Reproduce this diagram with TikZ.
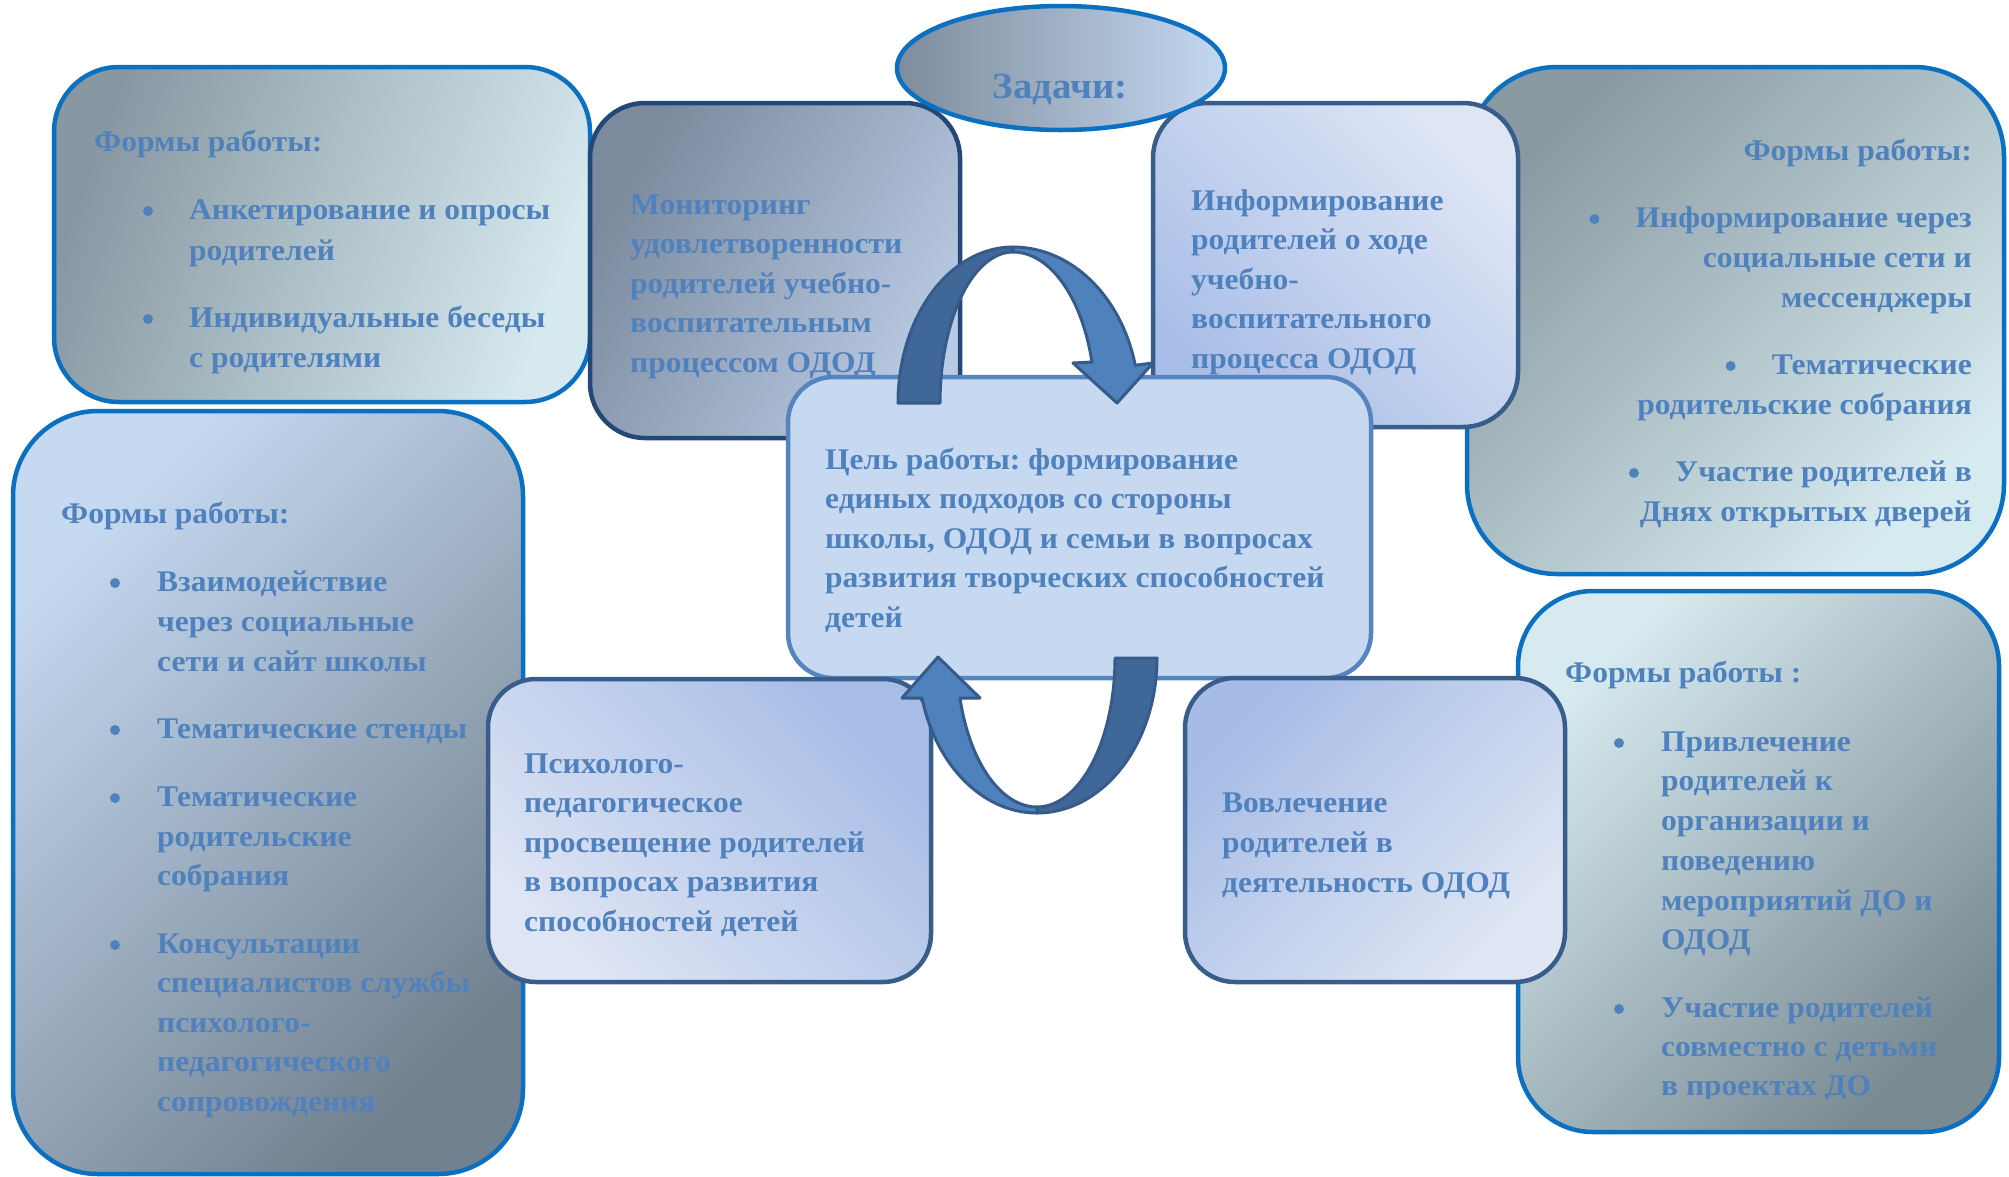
\documentclass[tikz,border=0pt]{standalone}
\usepackage{fontspec}
\setmainfont{Liberation Serif}
\newfontfamily\cfont{Liberation Serif}[FakeStretch=1.05]
\frenchspacing
\usetikzlibrary{shapes.geometric}
\definecolor{txtc}{HTML}{4F81BD}
\definecolor{bluebd}{HTML}{0B70C0}
\definecolor{navybd}{HTML}{234777}
\definecolor{midbd}{HTML}{385D8A}
\definecolor{cbd}{HTML}{5584BE}
\definecolor{cfill}{HTML}{C6D9F0}
\definecolor{arrd}{HTML}{3F6798}
\definecolor{arrl}{HTML}{4F81BD}
\definecolor{arro}{HTML}{365B8B}
\definecolor{tlA}{HTML}{8898A2}\definecolor{tlB}{HTML}{D5E9EF}
\definecolor{lbA}{HTML}{C5D9F1}\definecolor{lbB}{HTML}{72818F}
\definecolor{trA}{HTML}{8A9AA2}\definecolor{trB}{HTML}{D6EBF0}
\definecolor{brA}{HTML}{D6EAF0}\definecolor{brB}{HTML}{7A8A92}
\definecolor{mnA}{HTML}{7B8A9D}\definecolor{mnB}{HTML}{B9CAE4}
\definecolor{inA}{HTML}{DEE6F5}\definecolor{inB}{HTML}{A8BDE7}
\definecolor{elA}{HTML}{7E8C9C}\definecolor{elB}{HTML}{C4D8F1}
\definecolor{psA}{HTML}{A7BDE6}\definecolor{psB}{HTML}{DEE5F4}
\definecolor{ivA}{HTML}{A6BCE6}\definecolor{ivB}{HTML}{DFE6F4}
\tikzset{
  box/.style={rectangle, line width=4.5pt, inner sep=0pt},
  t/.style={font=\cfont\bfseries\fontsize{30}{40}\selectfont, text=txtc, inner sep=0pt, anchor=base west},
  tre/.style={t, anchor=base east},
  bul/.style={circle, fill=txtc, inner sep=0pt, minimum size=10pt},
  arrpart/.style={draw=arro, line width=3pt, line join=round},
}
\begin{document}
\begin{tikzpicture}[x=1pt,y=-1pt]
\useasboundingbox (0,0) rectangle (2009,1176);
% outer boxes
\node[box, draw=bluebd, rounded corners=65pt, minimum width=536pt, minimum height=335pt,
  top color=tlA, bottom color=tlB, shading angle=70] (tl) at (322,234.5) {};
\node[box, draw=bluebd, rounded corners=85pt, minimum width=510pt, minimum height=763pt,
  top color=lbA, bottom color=lbB, shading angle=45] (lb) at (268,792.5) {};
\node[box, draw=bluebd, rounded corners=90pt, minimum width=537pt, minimum height=507pt,
  top color=trA, bottom color=trB, shading angle=45] (trb) at (1735.5,320.5) {};
\node[box, draw=bluebd, rounded corners=75pt, minimum width=481pt, minimum height=541pt,
  top color=brA, bottom color=brB, shading angle=45] (br) at (1758.5,861.5) {};
% task boxes
\node[box, draw=navybd, rounded corners=55pt, minimum width=370pt, minimum height=335pt,
  top color=mnA, bottom color=mnB, shading angle=60] (mon) at (775,270.5) {};
\node[box, draw=midbd, rounded corners=55pt, minimum width=365pt, minimum height=324pt,
  top color=inA, bottom color=inB, shading angle=-45] (inf) at (1335.5,265) {};
\node[ellipse, line width=4.5pt, draw=bluebd, minimum width=328pt, minimum height=124pt,
  inner sep=0pt, left color=elA, right color=elB] (zad) at (1061,68) {};
\node[box, draw=cbd, fill=cfill, rounded corners=45pt, minimum width=583pt, minimum height=301pt] (goal) at (1079.5,527.5) {};
\node[box, draw=midbd, rounded corners=48pt, minimum width=443pt, minimum height=303pt,
  top color=psA, bottom color=psB, shading angle=-45] (psy) at (709.5,830.5) {};
\node[box, draw=midbd, rounded corners=50pt, minimum width=380pt, minimum height=304pt,
  top color=ivA, bottom color=ivB, shading angle=45] (inv) at (1375,830) {};

% texts
\node[font=\cfont\bfseries\fontsize{37}{44}\selectfont, text=txtc, inner sep=0pt, anchor=base] (zt) at (1060,98) {Задачи:};

\node[t] (tl0) at (94,151) {Формы работы:};
\node[bul] (tlb1) at (148,211) {};
\node[t] (tl1) at (189,219) {Анкетирование и опросы};
\node[t] (tl2) at (189,260) {родителей};
\node[bul] (tlb2) at (148,319) {};
\node[t] (tl3) at (189,327) {Индивидуальные беседы};
\node[t] (tl4) at (189,367) {с родителями};

\node[t] (m1) at (630,214) {Мониторинг};
\node[t] (m2) at (630,253.5) {удовлетворенности};
\node[t] (m3) at (630,293) {родителей учебно-};
\node[t] (m4) at (630,332.5) {воспитательным};
\node[t] (m5) at (630,372) {процессом ОДОД};

\node[t] (i1) at (1191,210) {Информирование};
\node[t] (i2) at (1191,249.5) {родителей о ходе};
\node[t] (i3) at (1191,289) {учебно-};
\node[t] (i4) at (1191,328.5) {воспитательного};
\node[t] (i5) at (1191,368) {процесса ОДОД};

\node[tre] (tr0) at (1972,160) {Формы работы:};
\node[tre] (tr1) at (1972,227) {Информирование через};
\node[bul] (trbl1) at ([xshift=-41pt,yshift=8pt]tr1.base west) {};
\node[tre] (tr2) at (1972,267) {социальные сети и};
\node[tre] (tr3) at (1972,307) {мессенджеры};
\node[tre] (tr4) at (1972,374) {Тематические};
\node[bul] (trbl2) at ([xshift=-41pt,yshift=8pt]tr4.base west) {};
\node[tre] (tr5) at (1972,414) {родительские собрания};
\node[tre] (tr6) at (1972,481) {Участие родителей в};
\node[bul] (trbl3) at ([xshift=-41pt,yshift=8pt]tr6.base west) {};
\node[tre] (tr7) at (1972,521) {Днях открытых дверей};

\node[t] (g1) at (825,469) {Цель работы: формирование};
\node[t] (g2) at (825,508.5) {единых подходов со стороны};
\node[t] (g3) at (825,548) {школы, ОДОД и семьи в вопросах};
\node[t] (g4) at (825,587.5) {развития творческих способностей};
\node[t] (g5) at (825,627) {детей};

\node[t] (l0) at (61,523) {Формы работы:};
\node[bul] (lbb1) at (115,583) {};
\node[t] (l1) at (157,591) {Взаимодействие};
\node[t] (l2) at (157,631) {через социальные};
\node[t] (l3) at (157,671) {сети и сайт школы};
\node[bul] (lbb2) at (115,730) {};
\node[t] (l4) at (157,738) {Тематические стенды};
\node[bul] (lbb3) at (115,798) {};
\node[t] (l5) at (157,806) {Тематические};
\node[t] (l6) at (157,846) {родительские};
\node[t] (l7) at (157,885) {собрания};
\node[bul] (lbb4) at (115,945) {};
\node[t] (l8) at (157,953) {Консультации};
\node[t] (l9) at (157,992) {специалистов службы};
\node[t] (l10) at (157,1032) {психолого-};
\node[t] (l11) at (157,1071) {педагогического};
\node[t] (l12) at (157,1111) {сопровождения};

\node[t] (p1) at (524,773) {Психолого-};
\node[t] (p2) at (524,812.5) {педагогическое};
\node[t] (p3) at (524,852) {просвещение родителей};
\node[t] (p4) at (524,891.5) {в вопросах развития};
\node[t] (p5) at (524,931) {способностей детей};

\node[t] (v1) at (1222,812) {Вовлечение};
\node[t] (v2) at (1222,852) {родителей в};
\node[t] (v3) at (1222,892) {деятельность ОДОД};

\node[t] (b0) at (1565,682) {Формы работы :};
\node[bul] (bbb1) at (1619,743) {};
\node[t] (b1) at (1661,751) {Привлечение};
\node[t] (b2) at (1661,790) {родителей к};
\node[t] (b3) at (1661,830) {организации и};
\node[t] (b4) at (1661,870) {поведению};
\node[t] (b5) at (1661,910) {мероприятий ДО и};
\node[t] (b6) at (1661,949) {ОДОД};
\node[bul] (bbb2) at (1619,1009) {};
\node[t] (b7) at (1661,1017) {Участие родителей};
\node[t] (b8) at (1661,1056) {совместно с детьми};
\begin{scope}
\clip (1600,1060) rectangle (2000,1098);
\node[t] (b9) at (1661,1095) {в проектах ДО};
\end{scope}

% top curved arrow
\path[arrpart, fill=arrd] plot[domain=180:90, samples=50] ({1013+115*cos(\x)}, {403-156*sin(\x)})
  -- plot[domain=90:180, samples=50] ({1013+73*cos(\x)}, {403-151*sin(\x)}) -- cycle;
\path[arrpart, fill=arrl] plot[domain=90:14, samples=50] ({1013+126*cos(\x)}, {403-156*sin(\x)})
  -- (1153,363) -- (1117,403) -- (1073,363)
  -- plot[domain=15.75:90, samples=50] ({1013+82*cos(\x)}, {403-151*sin(\x)}) -- cycle;
% bottom curved arrow
\path[arrpart, fill=arrd] plot[domain=0:90, samples=50] ({1037+120*cos(\x)}, {658+155*sin(\x)})
  -- plot[domain=90:0, samples=50] ({1037+78*cos(\x)}, {658+149*sin(\x)}) -- cycle;
\path[arrpart, fill=arrl] plot[domain=90:165.04, samples=50] ({1037+119*cos(\x)}, {658+155*sin(\x)})
  -- (902,698) -- (938,657) -- (980,698)
  -- plot[domain=164.43:90, samples=50] ({1037+80*cos(\x)}, {658+149*sin(\x)}) -- cycle;
\end{tikzpicture}
\end{document}
